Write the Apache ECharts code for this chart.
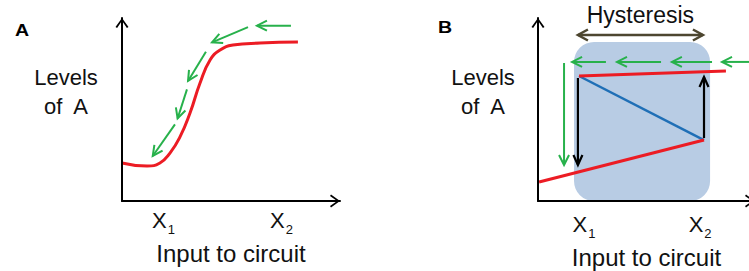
<!DOCTYPE html>
<html><head><meta charset="utf-8">
<script src="https://cdn.jsdelivr.net/npm/echarts@6/dist/echarts.min.js"></script>
<style>html,body{margin:0;padding:0;background:#fff}#c{width:749px;height:271px}</style>
</head><body><div id="c"></div>
<script>
// ---------------- data ----------------
const panelTitles = ['A', 'B'];
const xAxisTitle = 'Input to circuit';
const yAxisTitleLines = ['Levels', 'of  A'];
const tickNames = ['X1', 'X2'];
const tickPosA = [1.9, 7.32];
const tickPosB = [2.12, 7.47];

// Panel A: sigmoidal response curve (x: input, y: level of A)
const curveA = [[0,2.08],[1.15,1.91],[1.74,2.08],[2.2,2.62],[2.66,3.5],[3.12,4.81],[3.58,6.45],[4.04,7.7],[4.5,8.25],[5.09,8.52],[6.33,8.63],[8.07,8.69]];
// Panel A: green arrows [xStart, yStart, xEnd, yEnd]
const greenArrowsA = [[7.75,9.58,6.19,9.58],[5.78,9.5,4.13,8.67],[3.85,8.16,3.03,6.56],[2.98,6.1,2.55,4.51],[2.43,4.19,1.41,2.46]];

// Panel B
const hysteresisBox = [[1.66,0,7.93,8.69]];
const hysteresisSpan = [[1.84,9.07,7.6,9.07]];
const hysteresisLabel = 'Hysteresis';
const greenArrowsB = [[9.9,7.6,8.48,7.6],[8.02,7.6,6.17,7.6],[5.67,7.6,3.64,7.6],[3.13,7.6,1.57,7.6],[1.2,7.54,1.2,1.97]];
const upperBranchB = [[1.89,6.83],[8.66,7.1]];
const lowerBranchB = [[0.05,1.04],[7.65,3.33]];
const unstableB = [[1.89,6.83],[7.65,3.33]];
const jumpArrowsB = [[1.84,6.72,1.84,1.97],[7.65,3.44,7.65,6.78]];

// ---------------- styles ----------------
const RED = '#ec1c24', BLUE = '#1f6fb6', GREEN = '#27b14b', BOX = '#b8cce4', OLIVE = '#4d4630', INK = '#111';
const FONT = 'Liberation Sans, Arial, sans-serif';
const axisArrow = 'path://M0,9 L6.5,0 L13,9 L11.4,10 L6.5,2.8 L1.6,10 Z';

function head(tip, from, L, W, style) {
  const ang = Math.atan2(tip[1] - from[1], tip[0] - from[0]);
  const c = Math.cos(ang), s = Math.sin(ang);
  const bx = tip[0] - L * c, by = tip[1] - L * s;
  return { type: 'polyline', shape: { points: [[bx - W * s, by + W * c], tip, [bx + W * s, by - W * c]] }, style: Object.assign({}, style) };
}
function arrowSeries(data, color, width, idx, L, W, dbl, label) {
  return {
    type: 'custom', xAxisIndex: idx, yAxisIndex: idx, data: data, z: 4, silent: true, clip: false,
    renderItem: function (params, api) {
      const a = api.coord([api.value(0), api.value(1)]);
      const b = api.coord([api.value(2), api.value(3)]);
      const style = { stroke: color, lineWidth: width, fill: null, lineJoin: 'miter' };
      const kids = [{ type: 'line', shape: { x1: a[0], y1: a[1], x2: b[0], y2: b[1] }, style: Object.assign({}, style) }];
      kids.push(head(b, a, L, W, style));
      if (dbl) kids.push(head(a, b, L, W, style));
      if (label) kids.push({ type: 'text', x: (a[0] + b[0]) / 2, y: a[1] - 20,
        style: { text: label, fontSize: 23, fontFamily: FONT, fill: INK, align: 'center', verticalAlign: 'middle' } });
      return { type: 'group', children: kids };
    }
  };
}
function xAxis(idx, ticks, margin, gap) {
  return {
    type: 'value', gridIndex: idx, min: 0, max: 10, z: 5,
    axisLine: { show: true, onZero: false, symbol: ['none', axisArrow], symbolSize: [13, 10], symbolOffset: [0, -5], lineStyle: { color: '#000', width: 2 } },
    axisTick: { show: false }, splitLine: { show: false },
    axisLabel: {
      show: true, customValues: ticks, margin: margin, hideOverlap: false,
      formatter: function (v) {
        let i = 0, d = Infinity;
        ticks.forEach(function (t, k) { if (Math.abs(t - v) < d) { d = Math.abs(t - v); i = k; } });
        const n = tickNames[i];
        return '{x|' + n.charAt(0) + '}{s|' + n.slice(1) + '}';
      },
      rich: { x: { fontSize: 22, color: INK, fontFamily: FONT }, s: { fontSize: 13, color: INK, fontFamily: FONT, padding: [18, 0, 0, 1] } }
    },
    name: xAxisTitle, nameLocation: 'middle', nameGap: gap,
    nameTextStyle: { fontSize: 24, color: INK, fontFamily: FONT }
  };
}
function yAxis(idx, gap) {
  return {
    type: 'value', gridIndex: idx, min: 0, max: 10, z: 5,
    axisLine: { show: true, onZero: false, symbol: ['none', axisArrow], symbolSize: [13, 10], symbolOffset: [0, -5], lineStyle: { color: '#000', width: 2 } },
    axisTick: { show: false }, splitLine: { show: false }, axisLabel: { show: false },
    name: yAxisTitleLines.map(function (t) { return '{a|' + t + '}'; }).join('\n') + '\n{b| }',
    nameLocation: 'middle', nameRotate: 0, nameGap: gap,
    nameTextStyle: {
      color: INK, fontFamily: FONT, align: 'center', verticalAlign: 'middle',
      rich: { a: { fontSize: 22, lineHeight: 29.5, color: INK, fontFamily: FONT, align: 'center' }, b: { fontSize: 10, lineHeight: 35 } }
    }
  };
}

const chart = echarts.init(document.getElementById('c'), null, { renderer: 'svg' });
chart.setOption({
  animation: false,
  backgroundColor: '#fff',
  textStyle: { fontFamily: FONT },
  graphic: [
    { type: 'text', x: 15, y: 21, scaleX: 1.15, silent: true, style: { text: panelTitles[0], fontSize: 17, fontWeight: 'bold', fontFamily: FONT, fill: '#000', verticalAlign: 'top' } },
    { type: 'text', x: 438, y: 18, scaleX: 1.15, silent: true, style: { text: panelTitles[1], fontSize: 17, fontWeight: 'bold', fontFamily: FONT, fill: '#000', verticalAlign: 'top' } }
  ],
  grid: [
    { left: 122, top: 18, width: 218, height: 183, containLabel: false, outerBoundsMode: 'none' },
    { left: 538, top: 18, width: 217, height: 183, containLabel: false, outerBoundsMode: 'none' }
  ],
  xAxis: [xAxis(0, tickPosA, 4, 40), xAxis(1, tickPosB, 8, 44)],
  yAxis: [yAxis(0, 56), yAxis(1, 55)],
  series: [
    { type: 'line', xAxisIndex: 0, yAxisIndex: 0, data: curveA, smooth: 0.5, symbol: 'none', lineStyle: { color: RED, width: 3 }, z: 3, silent: true },
    arrowSeries(greenArrowsA, GREEN, 2, 0, 10, 5, false),
    {
      type: 'custom', xAxisIndex: 1, yAxisIndex: 1, data: hysteresisBox, z: 1, silent: true, clip: false,
      renderItem: function (params, api) {
        const p1 = api.coord([api.value(0), api.value(1)]);
        const p2 = api.coord([api.value(2), api.value(3)]);
        return { type: 'rect', shape: { x: p1[0], y: p2[1], width: p2[0] - p1[0], height: p1[1] - p2[1], r: 20 }, style: { fill: BOX } };
      }
    },
    arrowSeries(hysteresisSpan, OLIVE, 2.5, 1, 10, 5.5, true, hysteresisLabel),
    { type: 'line', xAxisIndex: 1, yAxisIndex: 1, data: unstableB, symbol: 'none', lineStyle: { color: BLUE, width: 2.5 }, z: 3, silent: true },
    { type: 'line', xAxisIndex: 1, yAxisIndex: 1, data: upperBranchB, symbol: 'none', lineStyle: { color: RED, width: 3 }, z: 3, silent: true },
    { type: 'line', xAxisIndex: 1, yAxisIndex: 1, data: lowerBranchB, symbol: 'none', lineStyle: { color: RED, width: 3 }, z: 3, silent: true },
    arrowSeries(greenArrowsB, GREEN, 2, 1, 10, 5, false),
    arrowSeries(jumpArrowsB, '#000', 2.2, 1, 10, 4.5, false)
  ]
});
</script>
</body></html>
